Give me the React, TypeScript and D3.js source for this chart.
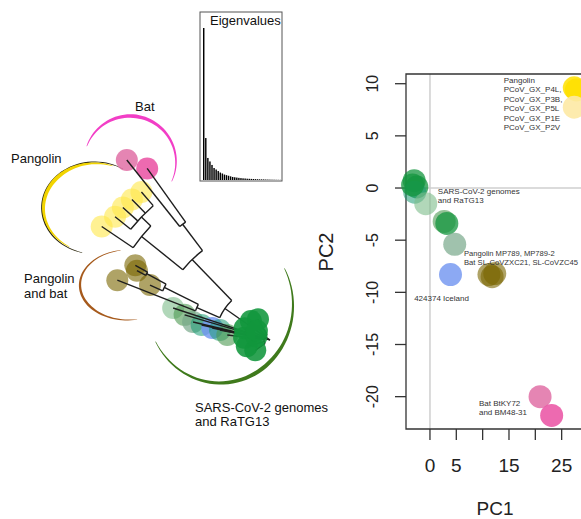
import React from 'react';
import * as d3 from 'd3';

// ---- Eigenvalue inset (relative sizes) ----
const eigenvalues = [100, 27.6, 14.5, 12.2, 9.9, 7.9, 6.9, 5.9, 4.9, 4.3, 3.6, 3.2, 2.8, 2.4, 2.0, 1.8, 1.6, 1.4, 1.25, 1.1,
  1.0, 0.86, 0.79, 0.72, 0.66, 0.59, 0.53, 0.46, 0.43, 0.39, 0.33, 0.3, 0.26, 0.23, 0.2, 0.16, 0.13, 0.1];

// ---- PCA scores ----
const pc1 = [27.4, 27.8, 27.4, -3.0, -2.5, -2.9, -3.3, -0.8, 2.7, 3.2, 4.7, 3.9, 11.2, 11.8, 12.3, 20.9, 23.1];
const pc2 = [9.6, 9.4, 7.75, 0.7, 0.1, -0.4, 0.3, -1.5, -3.2, -3.4, -5.4, -8.3, -8.3, -8.5, -8.2, -20.0, -21.8];
const pcGroup = ['gxA', 'gxA', 'gxB', 'sars', 'sars', 'teal', 'sars', 'sarsL', 'sarsM', 'sars', 'sarsS', 'iceland',
  'olive', 'olive', 'olive', 'batA', 'batB'];

const xTicks = [0, 5, 10, 15, 20, 25];
const xTickLabels = ['0', '5', '', '15', '', '25'];
const yTicks = [10, 5, 0, -5, -10, -15, -20];

// ---- tree: [id, parent, depth, leaf angle (deg), group] ----
const treeRows: [string, string, number, number | null, string | null][] = [
  ['root', '', 0, null, null],
  ['G', 'root', 6, null, null],
  ['B', 'root', 55, null, null],
  ['O', 'B', 80, null, null],
  ['O1', 'O', 164, 21.4, 'olive'],
  ['O2', 'O', 118, null, null],
  ['O3', 'O2', 132, 24.6, 'olive'],
  ['O4', 'O2', 140, null, null],
  ['O5', 'O4', 154, 29, 'olive'],
  ['O6', 'O4', 150, 27.5, 'olive'],
  ['PY', 'B', 112, null, null],
  ['Y', 'PY', 165, null, null],
  ['Y1', 'Y', 203, 34, 'gx'],
  ['Y2', 'Y', 178, null, null],
  ['Y3', 'Y2', 198, 38.5, 'gx'],
  ['Y4', 'Y2', 198, 42, 'gx'],
  ['Y5', 'Y2', 197, 45.5, 'gx'],
  ['Y6', 'Y2', 196, 49, 'gx'],
  ['P', 'PY', 145, null, null],
  ['P1', 'P', 230, 51.5, 'batA'],
  ['P2', 'P', 211, 54.4, 'batB'],
  ['g1', 'G', 102, 18.3, 'sarsL'],
  ['g2', 'G', 89, 16.4, 'sarsM'],
  ['g3', 'G', 79, 13.2, 'sarsS'],
  ['g4', 'G', 70, 12.4, 'teal'],
  ['g5', 'G', 59, 11.7, 'iceland'],
  ['g6', 'G', 51, 11.3, 'teal'],
  ['g7', 'G', 43, 6.6, 'sarsM'],
  ['b1', 'G', 18, -35, 'blob'],
  ['b2', 'G', 24, -15, 'blob'],
  ['b3', 'G', 26, 5, 'blob'],
  ['b4', 'G', 28, 25, 'blob'],
  ['b5', 'G', 27, 45, 'blob'],
  ['b6', 'G', 24, 60, 'blob'],
  ['b7', 'G', 14, 15, 'blob'],
  ['b8', 'G', 16, 35, 'blob'],
];

const colors: Record<string, [string, number]> = {
  gxA: ['#ffe000', 0.85], gxB: ['#fde9a4', 0.9], gx: ['#ffe84a', 0.6],
  sars: ['#14963f', 0.75], teal: ['#1a9a72', 0.55], sarsL: ['#7dbd8a', 0.6], sarsM: ['#4c9a52', 0.6],
  sarsS: ['#78a88a', 0.7], iceland: ['#6f93f0', 0.8], olive: ['#7a6500', 0.6],
  batA: ['#e070a6', 0.85], batB: ['#ea50a2', 0.85], blob: ['#11963c', 0.88],
};

const font = 'Liberation Sans, Arial, sans-serif';

function Halo({ cx, cy, r, ry, a0, a1, w, peak, color, opacity = 1 }: any) {
  const ts = d3.range(0, 1.0001, 0.02);
  const width = (t: number) => t < peak ? w * Math.pow(t / peak, 0.8) : w * Math.pow((1 - t) / (1 - peak), 0.8);
  const area = d3.areaRadial<number>()
    .angle(t => (a0 + (a1 - a0) * t) * Math.PI / 180)
    .innerRadius(t => r - width(t) / 2 - 0.3)
    .outerRadius(t => r + width(t) / 2 + 0.3);
  return <path d={area(ts) || ''} transform={`translate(${cx},${cy}) scale(1,${ry / r})`} fill={color} opacity={opacity} />;
}

export default function App() {
  // eigen inset
  const ex = d3.scaleBand<number>().domain(d3.range(eigenvalues.length)).range([203, 281]).paddingInner(0.3);
  const ey = d3.scaleLinear().domain([0, 100]).range([180, 28]);

  // PCA
  const x = d3.scaleLinear().domain([-4.55, 30]).range([406, 588]);
  const y = d3.scaleLinear().domain([-23.1, 10.93]).range([429, 74]);

  // tree
  const root = d3.stratify<any>().id(d => d[0]).parentId(d => d[1] || null)(treeRows);
  root.eachAfter((n: any) => {
    n.r = n.data[2];
    n.a = n.children ? d3.mean(n.children, (c: any) => c.a) : n.data[3];
  });
  const ang = d3.scaleLinear().domain([0, 90]).range([-Math.PI / 2, 0]);
  const rad = d3.scaleLinear().domain([0, 100]).range([0, 100]);
  const ox = 270, oy = 340;
  const tp = (a: number, r: number) => {
    const [px, py] = d3.pointRadial(ang(a), rad(r));
    return [ox + px, oy + py];
  };
  const nodes: any[] = root.descendants();
  const leaves: any[] = root.leaves();
  const stems = nodes.filter(n => n.parent);
  const joins = nodes.filter(n => n.children && n.children.length > 1 && n.r > 0);
  const arcGen = d3.arc<any>();

  return (
    <svg width={581} height={519} style={{ position: 'absolute', left: 0, top: 0, background: '#fff' }} fontFamily={font}>
      {/* clade halos */}
      <Halo cx={130} cy={162} r={46} ry={46} a0={-70} a1={115} w={3.2} peak={0.4} color="#f23ec6" />
      <Halo cx={95} cy={208} r={53} ry={46} a0={-166} a1={32} w={1.4} peak={0.5} color="#2e2a10" />
      <Halo cx={95} cy={208} r={51.5} ry={44.7} a0={-150} a1={20} w={3.6} peak={0.6} color="#f2d400" />
      <Halo cx={128} cy={285} r={48} ry={35} a0={-191} a1={-9} w={2.2} peak={0.35} color="#a65a1c" />
      <Halo cx={220} cy={305} r={73} ry={78} a0={62} a1={242} w={3.4} peak={0.45} color="#3f7a1c" />

      {/* tree tips (non-blob) */}
      {leaves.filter(l => l.data[4] !== 'blob').map((l, i) => {
        const [cx, cy] = tp(l.a, l.r);
        const [c, op] = colors[l.data[4]];
        return <circle key={'t' + i} cx={cx} cy={cy} r={11} fill={c} fillOpacity={op} />;
      })}
      {/* branches */}
      {stems.map((n, i) => {
        const [x1, y1] = tp(n.a, n.parent.r);
        const [x2, y2] = tp(n.a, n.r);
        return <line key={'s' + i} x1={x1} y1={y1} x2={x2} y2={y2} stroke="#1e1e1e" strokeWidth={1.4} />;
      })}
      {joins.map((n, i) => {
        const as = n.children.map((c: any) => ang(c.a));
        return <path key={'j' + i} transform={`translate(${ox},${oy})`} fill="none" stroke="#1e1e1e" strokeWidth={1.4}
          d={arcGen({ innerRadius: rad(n.r), outerRadius: rad(n.r), startAngle: d3.min(as), endAngle: d3.max(as) }) || ''} />;
      })}
      {leaves.filter(l => l.data[4] === 'blob').map((l, i) => {
        const [cx, cy] = tp(l.a, l.r);
        const [c, op] = colors.blob;
        return <circle key={'b' + i} cx={cx} cy={cy} r={11} fill={c} fillOpacity={op} />;
      })}

      {/* clade labels */}
      <g fontSize={13} fill="#111">
        <text x={135} y={111}>Bat</text>
        <text x={11} y={163}>Pangolin</text>
        <text x={24} y={283}>Pangolin</text>
        <text x={24} y={298}>and bat</text>
        <text x={195} y={412}>SARS-CoV-2 genomes</text>
        <text x={195} y={426}>and RaTG13</text>
      </g>

      {/* eigenvalue inset */}
      <rect x={200} y={12} width={82} height={169} fill="#fff" stroke="#555" strokeWidth={1} />
      {eigenvalues.map((v, i) => (
        <rect key={'e' + i} x={ex(i)} y={ey(v)} width={ex.bandwidth()} height={ey(0) - ey(v)} fill="#000" />
      ))}
      <text x={210} y={25} fontSize={13} fill="#111">Eigenvalues</text>

      {/* PCA panel */}
      <line x1={x(0)} x2={x(0)} y1={74} y2={429} stroke="#cfcfcf" strokeWidth={1.5} />
      <line x1={406} x2={590} y1={y(0)} y2={y(0)} stroke="#cfcfcf" strokeWidth={1.5} />
      <path d="M600,74H406V429H600" fill="none" stroke="#333" strokeWidth={1.3} />
      {yTicks.map(t => (
        <g key={'yt' + t}>
          <line x1={395} x2={406} y1={y(t)} y2={y(t)} stroke="#333" strokeWidth={1.3} />
          <text transform={`translate(378,${y(t)}) rotate(-90)`} textAnchor="middle" fontSize={16} fill="#222">{t}</text>
        </g>
      ))}
      {xTicks.map((t, i) => (
        <g key={'xt' + t}>
          <line x1={x(t)} x2={x(t)} y1={429} y2={440} stroke="#333" strokeWidth={1.3} />
          <text x={x(t)} y={472} textAnchor="middle" fontSize={19} fill="#222">{xTickLabels[i]}</text>
        </g>
      ))}
      <text x={495} y={515} textAnchor="middle" fontSize={19} fill="#222">PC1</text>
      <text transform="translate(333,252) rotate(-90)" textAnchor="middle" fontSize={20} fill="#222">PC2</text>

      {pc1.map((v, i) => {
        const [c, op] = colors[pcGroup[i]];
        return <circle key={'p' + i} cx={x(v)} cy={y(pc2[i])} r={11.5} fill={c} fillOpacity={op} />;
      })}

      <g fontSize={8} fill="#333">
        {['Pangolin', 'PCoV_GX_P4L,', 'PCoV_GX_P3B,', 'PCoV_GX_P5L', 'PCoV_GX_P1E', 'PCoV_GX_P2V'].map((s, i) => (
          <text key={s} x={x(14)} y={83 + i * 9.4}>{s}</text>
        ))}
        <text x={x(1.5)} y={194}>SARS-CoV-2 genomes</text>
        <text x={x(1.5)} y={203}>and RaTG13</text>
        <text x={x(6.45)} y={256} fontSize={7.6}>Pangolin MP789, MP789-2</text>
        <text x={x(6.45)} y={265} fontSize={7.6} textLength={114} lengthAdjust="spacingAndGlyphs">Bat SL-CoVZXC21, SL-CoVZC45</text>
        <text x={x(-3)} y={301}>424374 Iceland</text>
        <text x={x(9.3)} y={406}>Bat BtKY72</text>
        <text x={x(9.3)} y={415}>and BM48-31</text>
      </g>
    </svg>
  );
}
